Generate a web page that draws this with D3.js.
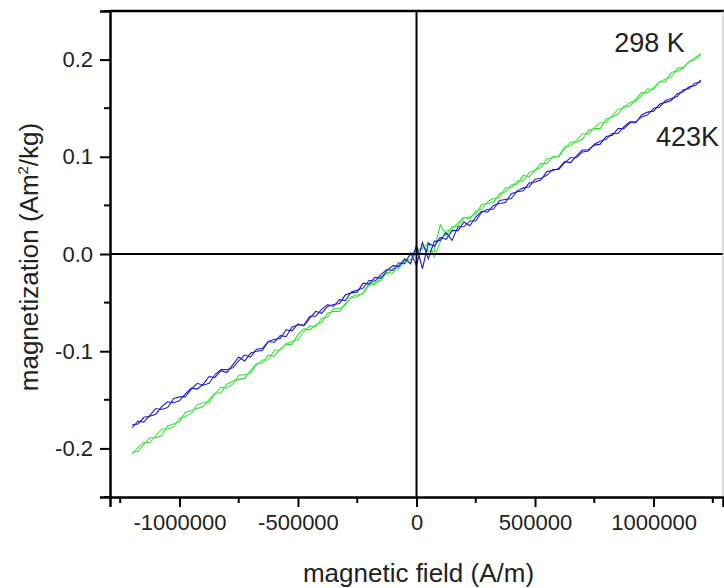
<!DOCTYPE html>
<html>
<head>
<meta charset="utf-8">
<script src="https://cdn.jsdelivr.net/npm/d3@7"></script>
<style>
  body { margin: 0; background: #fff; }
  text { font-family: "Liberation Sans", Arial, sans-serif; fill: #222; }
</style>
</head>
<body>
<div id="chart"></div>
<script>
// field sampled every 25000 A/m from -1200000 to 1200000
var field = d3.range(-48, 49).map(function(k) { return k * 25000; });

// 298 K, sweep up and sweep down (Am2/kg)
var m298up = [-0.204,-0.203,-0.196,-0.189,-0.189,-0.187,-0.177,-0.175,-0.173,-0.163,-0.161,-0.159,-0.157,-0.150,-0.143,-0.143,
  -0.134,-0.131,-0.129,-0.128,-0.120,-0.113,-0.112,-0.104,-0.105,-0.098,-0.093,-0.093,-0.083,-0.077,-0.078,-0.073,
  -0.070,-0.061,-0.059,-0.059,-0.051,-0.045,-0.044,-0.040,-0.030,-0.030,-0.027,-0.019,-0.020,-0.012,-0.006,-0.006,
  0.001,
  0.008,0.003,0.003,0.030,0.019,0.028,0.029,0.037,0.038,0.041,0.051,0.052,0.053,0.062,0.064,0.071,
  0.072,0.081,0.079,0.086,0.093,0.093,0.100,0.100,0.108,0.115,0.115,0.118,0.127,0.129,0.129,0.139,
  0.141,0.144,0.152,0.152,0.159,0.166,0.166,0.171,0.177,0.177,0.187,0.188,0.191,0.198,0.202,0.206];
var m298down = [-0.206,-0.199,-0.194,-0.194,-0.187,-0.180,-0.180,-0.178,-0.169,-0.167,-0.164,-0.155,-0.153,-0.153,-0.144,-0.137,
  -0.138,-0.134,-0.125,-0.124,-0.123,-0.114,-0.109,-0.109,-0.099,-0.099,-0.092,-0.090,-0.088,-0.080,-0.074,-0.075,
  -0.066,-0.065,-0.056,-0.056,-0.053,-0.044,-0.042,-0.041,-0.032,-0.031,-0.023,-0.021,-0.015,-0.015,-0.008,-0.001,
  0.005,
  0.005,0.012,-0.003,0.012,0.024,0.025,0.032,0.038,0.036,0.044,0.046,0.054,0.057,0.058,0.068,0.068,
  0.075,0.075,0.084,0.086,0.089,0.098,0.099,0.101,0.110,0.111,0.117,0.124,0.123,0.130,0.135,0.135,
  0.142,0.149,0.150,0.156,0.157,0.163,0.170,0.169,0.177,0.180,0.182,0.191,0.192,0.198,0.200,0.205];

// 423 K, sweep up and sweep down (Am2/kg)
var m423up = [-0.176,-0.175,-0.168,-0.167,-0.165,-0.157,-0.152,-0.153,-0.151,-0.144,-0.138,-0.139,-0.134,-0.126,-0.127,-0.120,
  -0.122,-0.114,-0.106,-0.110,-0.102,-0.100,-0.099,-0.090,-0.088,-0.087,-0.078,-0.079,-0.072,-0.074,-0.066,-0.059,
  -0.061,-0.054,-0.052,-0.051,-0.042,-0.040,-0.039,-0.030,-0.031,-0.024,-0.025,-0.017,-0.012,-0.013,-0.005,-0.010,
  0.009,
  -0.015,0.011,0.008,0.017,0.015,0.024,0.024,0.033,0.029,0.038,0.044,0.043,0.050,0.052,0.053,0.062,
  0.064,0.065,0.073,0.074,0.076,0.085,0.086,0.088,0.095,0.094,0.101,0.107,0.107,0.112,0.113,0.121,
  0.122,0.129,0.129,0.135,0.135,0.143,0.146,0.147,0.154,0.156,0.158,0.165,0.167,0.172,0.173,0.179];
var m423down = [-0.179,-0.172,-0.173,-0.166,-0.159,-0.160,-0.158,-0.149,-0.147,-0.147,-0.139,-0.133,-0.135,-0.133,-0.124,-0.119,
  -0.119,-0.117,-0.110,-0.104,-0.106,-0.098,-0.097,-0.090,-0.091,-0.084,-0.085,-0.075,-0.073,-0.073,-0.064,-0.064,
  -0.057,-0.052,-0.054,-0.047,-0.048,-0.039,-0.037,-0.035,-0.027,-0.028,-0.021,-0.016,-0.017,-0.009,-0.010,0.001,
  -0.012,
  0.012,-0.005,0.013,0.014,0.022,0.014,0.028,0.028,0.034,0.034,0.043,0.046,0.046,0.055,0.056,0.057,
  0.065,0.068,0.069,0.077,0.078,0.081,0.087,0.087,0.094,0.099,0.099,0.105,0.106,0.113,0.116,0.118,
  0.124,0.124,0.131,0.136,0.136,0.141,0.143,0.150,0.151,0.158,0.160,0.162,0.169,0.170,0.176,0.177];

var xMajor = [-1000000, -500000, 0, 500000, 1000000];
var xMinor = [-1250000, -750000, -250000, 250000, 750000, 1250000];
var yMajor = [-0.2, -0.1, 0.0, 0.1, 0.2];
var yMinor = [-0.25, -0.15, -0.05, 0.05, 0.15, 0.25];

var margin = {top: 11, right: 1, bottom: 91, left: 110},
    width = 724 - margin.left - margin.right,
    height = 588 - margin.top - margin.bottom;

var svg = d3.select("#chart")
  .append("svg")
    .attr("width", 724)
    .attr("height", 588)
  .append("g")
    .attr("transform", "translate(" + margin.left + "," + margin.top + ")");

var x = d3.scaleLinear()
    .domain([-1293000, 1293000])
    .range([0, width]);
var y = d3.scaleLinear()
    .domain([-0.25, 0.25])
    .range([height, 0]);

// the two loops, 298 K drawn first
function drawLine(vals, color) {
  var line = d3.line()
      .x(function(d, i) { return x(field[i]); })
      .y(function(d) { return y(d); });
  svg.append("path")
      .datum(vals)
      .attr("d", line)
      .attr("fill", "none")
      .attr("stroke", color)
      .attr("stroke-width", 1.1);
}
drawLine(m298up, "#2ee02e");
drawLine(m298down, "#44e844");
drawLine(m423up, "#1414d4");
drawLine(m423down, "#2626c4");

// zero lines
svg.append("line")
    .attr("x1", 0).attr("x2", width)
    .attr("y1", y(0)).attr("y2", y(0))
    .attr("stroke", "#000").attr("stroke-width", 2);
svg.append("line")
    .attr("x1", x(0)).attr("x2", x(0))
    .attr("y1", 0).attr("y2", height)
    .attr("stroke", "#000").attr("stroke-width", 2);

// frame
svg.append("line").attr("x1", 0).attr("x2", width + 1).attr("y1", 0).attr("y2", 0)
    .attr("stroke", "#000").attr("stroke-width", 2.5);
svg.append("line").attr("x1", width).attr("x2", width).attr("y1", 0).attr("y2", height)
    .attr("stroke", "#bbb").attr("stroke-width", 1);

// x axis
var xAxis = svg.append("g")
    .attr("transform", "translate(0," + height + ")")
    .call(d3.axisBottom(x).tickValues(xMajor).tickSize(10).tickPadding(7));
xAxis.append("g").selectAll("line")
    .data(xMinor)
    .enter()
    .append("line")
      .attr("x1", function(d) { return x(d); })
      .attr("x2", function(d) { return x(d); })
      .attr("y1", 0).attr("y2", 6)
      .attr("stroke", "#000").attr("stroke-width", 2);

// y axis
var yAxis = svg.append("g")
    .call(d3.axisLeft(y).tickValues(yMajor).tickSize(10).tickPadding(7));
yAxis.append("g").selectAll("line")
    .data(yMinor)
    .enter()
    .append("line")
      .attr("y1", function(d) { return y(d); })
      .attr("y2", function(d) { return y(d); })
      .attr("x1", 0).attr("x2", -6)
      .attr("stroke", "#000").attr("stroke-width", 2);

[xAxis, yAxis].forEach(function(a) {
  a.select(".domain").attr("stroke", "#000").attr("stroke-width", 2.5);
  a.selectAll(".tick line").attr("stroke", "#000").attr("stroke-width", 2);
  a.selectAll(".tick text")
      .style("font-family", "Liberation Sans, Arial, sans-serif")
      .style("font-size", "22px")
      .attr("fill", "#222");
});
xAxis.selectAll(".tick text").text(function(d) { return d < 0 ? "-" + Math.abs(d) : d; });
yAxis.selectAll(".tick text").text(function(d) { return (d < 0 ? "-" : "") + Math.abs(d).toFixed(1); });

// axis titles
svg.append("text")
    .attr("x", x(0) + 2)
    .attr("y", height + 85)
    .attr("text-anchor", "middle")
    .style("font-size", "26px")
    .text("magnetic field (A/m)");

var yt = svg.append("text")
    .attr("transform", "translate(" + (-72) + "," + (y(0) + 3) + ") rotate(-90)")
    .attr("text-anchor", "middle")
    .style("font-size", "26px");
yt.append("tspan").text("magnetization (Am");
yt.append("tspan").attr("dy", -10).style("font-size", "15px").text("2");
yt.append("tspan").attr("dy", 10).text("/kg)");

// series labels
svg.append("text")
    .attr("x", x(983000))
    .attr("y", y(0.208))
    .attr("text-anchor", "middle")
    .style("font-size", "27px")
    .text("298 K");
svg.append("text")
    .attr("x", x(1143000))
    .attr("y", y(0.111))
    .attr("text-anchor", "middle")
    .style("font-size", "27px")
    .text("423K");
</script>
</body>
</html>
